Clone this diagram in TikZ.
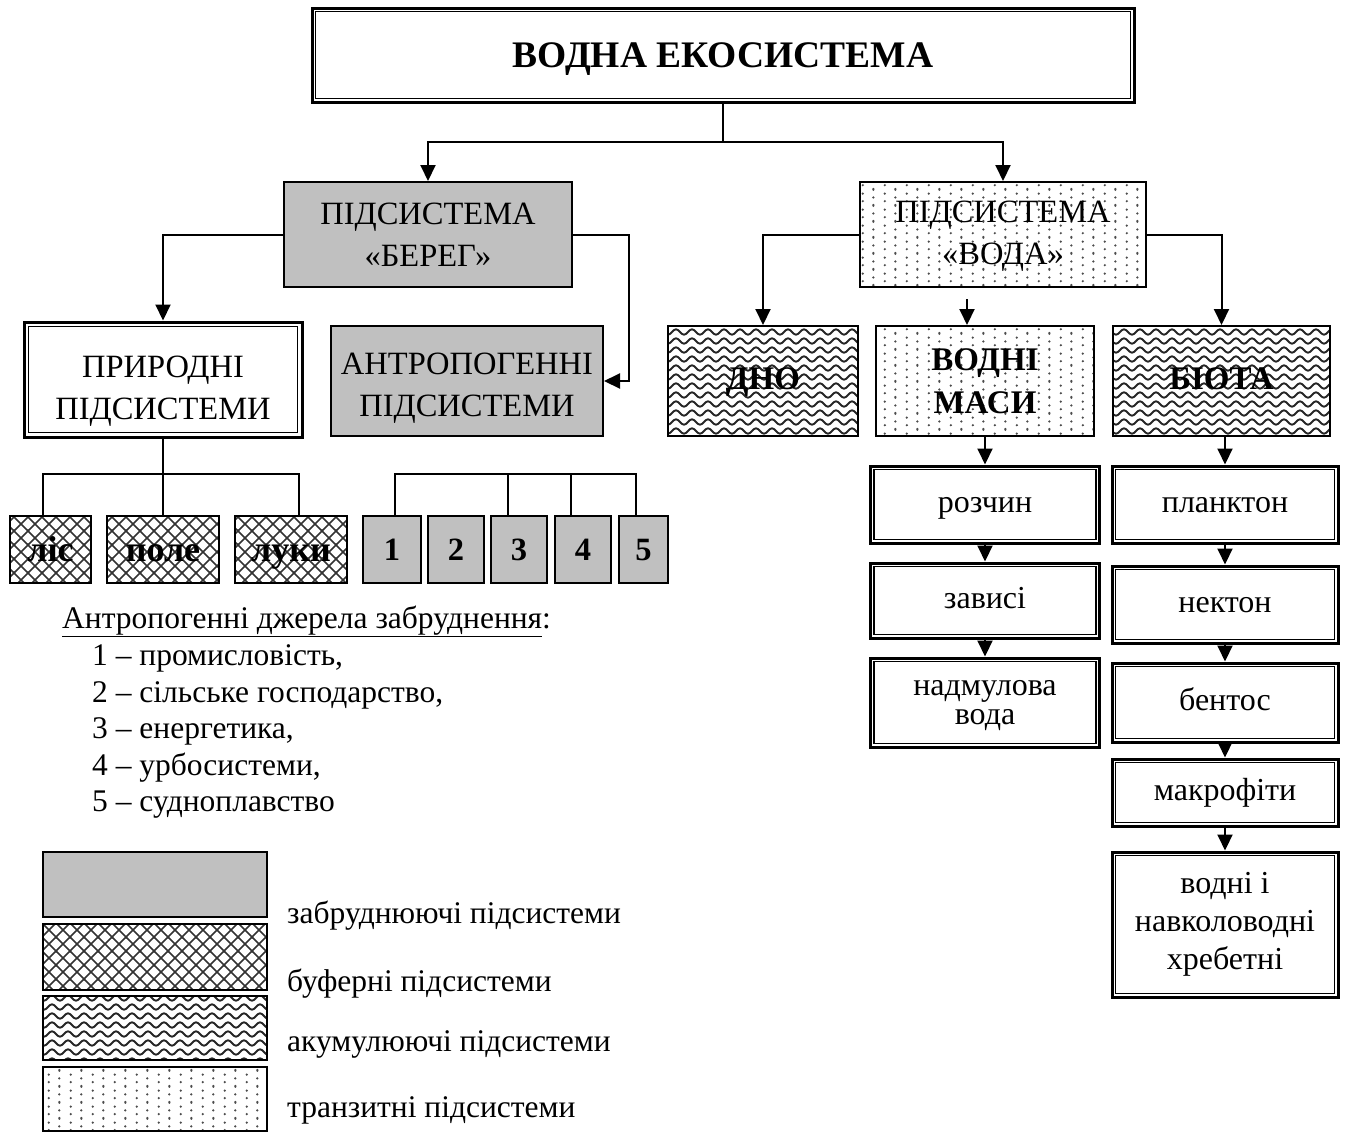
\documentclass[tikz,border=0pt]{standalone}
\usepackage{fontspec}
\setmainfont{Liberation Serif}
\usetikzlibrary{patterns,arrows.meta}

\pgfdeclarepatternformonly{xhatch}{\pgfqpoint{-1pt}{-1pt}}{\pgfqpoint{15pt}{15pt}}{\pgfqpoint{14pt}{14pt}}{%
  \pgfsetlinewidth{1.6pt}%
  \pgfpathmoveto{\pgfqpoint{-1pt}{-1pt}}\pgfpathlineto{\pgfqpoint{15pt}{15pt}}%
  \pgfpathmoveto{\pgfqpoint{-1pt}{15pt}}\pgfpathlineto{\pgfqpoint{15pt}{-1pt}}%
  \pgfusepath{stroke}}
\pgfdeclarepatternformonly{waves}{\pgfqpoint{-1pt}{-4pt}}{\pgfqpoint{17pt}{5pt}}{\pgfqpoint{16pt}{9pt}}{%
  \pgfsetlinewidth{1.9pt}\pgfsetroundcap%
  \pgfpathmoveto{\pgfqpoint{0pt}{0pt}}%
  \pgfpathsine{\pgfqpoint{4pt}{2.7pt}}%
  \pgfpathcosine{\pgfqpoint{4pt}{-2.7pt}}%
  \pgfpathsine{\pgfqpoint{4pt}{-2.7pt}}%
  \pgfpathcosine{\pgfqpoint{4pt}{2.7pt}}%
  \pgfusepath{stroke}}
\pgfdeclarepatternformonly{sdots}{\pgfqpoint{0pt}{0pt}}{\pgfqpoint{22pt}{16pt}}{\pgfqpoint{22pt}{16pt}}{%
  \pgfpathcircle{\pgfqpoint{5pt}{4pt}}{1.3pt}%
  \pgfpathcircle{\pgfqpoint{5pt}{12pt}}{1.3pt}%
  \pgfpathcircle{\pgfqpoint{16pt}{0pt}}{1.3pt}%
  \pgfpathcircle{\pgfqpoint{16pt}{8pt}}{1.3pt}%
  \pgfpathcircle{\pgfqpoint{16pt}{16pt}}{1.3pt}%
  \pgfusepath{fill}}

\definecolor{gfill}{RGB}{192,192,192}

\newcommand\dblinner[2][5]{\draw[line width=1.7pt] ([xshift=#1pt,yshift=-#1pt]#2.north west) rectangle ([xshift=-#1pt,yshift=#1pt]#2.south east);}

\tikzset{
  box/.style={draw, line width=2pt, inner sep=0pt, align=center},
  graybox/.style={box, fill=gfill},
  dblbox/.style={draw, line width=3pt, inner sep=0pt, align=center, fill=white},
  hatchbox/.style={box, pattern=xhatch, pattern color=black!80},
  wavebox/.style={box, pattern=waves, pattern color=black!85},
  dotbox/.style={box, pattern=sdots, pattern color=black!70},
  conn/.style={line width=2pt},
  arr/.style={line width=2pt, -{Triangle[width=15pt,length=16pt]}},
  fbig/.style={font=\fontsize{32.5}{42}\selectfont},
  fbigb/.style={font=\fontsize{33}{43}\selectfont\bfseries},
  fsmall/.style={font=\fontsize{32}{29}\selectfont, text height=22pt, text depth=6.5pt},
  fleg/.style={font=\fontsize{31.5}{36.5}\selectfont},
}

\begin{document}
\begin{tikzpicture}[x=1pt,y=-1pt]
\useasboundingbox (0,0) rectangle (1349,1133);

% title
\node[dblbox, minimum width=822pt, minimum height=94pt, font=\fontsize{37.5}{40}\selectfont\bfseries, text height=25pt, text depth=0pt] (title) at (723,55) {ВОДНА ЕКОСИСТЕМА};
\dblinner{title}

% level 1
\node[graybox, fbig, minimum width=288pt, minimum height=105pt] (bereg) at (428,234.5) {ПІДСИСТЕМА\\«БЕРЕГ»};
\node[dotbox, fbig, minimum width=286pt, minimum height=105pt] (voda) at (1003,234.5) {\rule{0pt}{25pt}ПІДСИСТЕМА\\«ВОДА»};

% level 2
\node[dblbox, fbig, minimum width=278pt, minimum height=115pt] (pryr) at (163,379.5) {\rule{0pt}{45pt}ПРИРОДНІ\\ПІДСИСТЕМИ};
\dblinner[6]{pryr}
\node[graybox, fbig, minimum width=272pt, minimum height=110pt] (antr) at (467,381) {\rule{0pt}{35pt}АНТРОПОГЕННІ\\ПІДСИСТЕМИ};
\node[wavebox, fbigb, text height=22pt, text depth=6pt, minimum width=190pt, minimum height=110pt] (dno) at (763,381) {ДНО};
\node[dotbox, fbigb, minimum width=218pt, minimum height=110pt] (vmasy) at (985,381) {ВОДНІ\\МАСИ};
\node[wavebox, fbigb, text height=22pt, text depth=6pt, minimum width=217pt, minimum height=110pt] (biota) at (1221.5,381) {БІОТА};

% level 3 left
\tikzset{small/.style={text height=24pt, text depth=0pt, minimum height=67pt, font=\fontsize{36}{30}\selectfont\bfseries}}
\node[hatchbox, small, minimum width=81pt] (lis) at (50.5,549.5) {ліс};
\node[hatchbox, small, minimum width=112pt] (pole) at (163,549.5) {поле};
\node[hatchbox, small, minimum width=112pt] (luky) at (291,549.5) {луки};
\tikzset{num/.style={graybox, text height=22pt, text depth=0pt, minimum height=67pt, font=\fontsize{32.5}{30}\selectfont\bfseries}}
\node[num, minimum width=58pt] (n1) at (392,549.5) {1};
\node[num, minimum width=56pt] (n2) at (456,549.5) {2};
\node[num, minimum width=56pt] (n3) at (519,549.5) {3};
\node[num, minimum width=56pt] (n4) at (583,549.5) {4};
\node[num, minimum width=49pt] (n5) at (643.5,549.5) {5};

% right columns
\tikzset{rc/.style={dblbox, fsmall, minimum width=229pt}}
\node[rc, minimum height=77pt] (rozch) at (985,504.5) {розчин};
\dblinner{rozch}
\node[rc, minimum height=75pt] (zav) at (985,600.5) {зависі};
\dblinner{zav}
\node[dblbox, font=\fontsize{32}{29}\selectfont, minimum width=229pt, minimum height=89pt] (nadm) at (985,702.5) {\rule{0pt}{22pt}надмулова\\вода};
\dblinner{nadm}

\node[rc, minimum width=226pt, minimum height=77pt] (plank) at (1225,504.5) {планктон};
\dblinner{plank}
\node[rc, minimum width=226pt, minimum height=77pt] (nekt) at (1225,604.5) {нектон};
\dblinner{nekt}
\node[rc, minimum width=226pt, minimum height=79pt] (bent) at (1225,702.5) {бентос};
\dblinner{bent}
\node[rc, minimum width=226pt, minimum height=67pt] (makro) at (1225,792.5) {макрофіти};
\dblinner{makro}
\node[dblbox, minimum width=226pt, minimum height=145pt, font=\fontsize{32}{38}\selectfont] (khreb) at (1225,924.5) {водні і\\навколоводні\\хребетні};
\dblinner{khreb}

% connectors
\draw[arr] (title.south) -- ++(0,38) -| (bereg.north);
\draw[arr] (title.south) -- ++(0,38) -| (voda.north);
\draw[arr] (bereg.west) -| (pryr.north);
\draw[arr] (bereg.east) -- ++(56,0) |- (antr.east);
\draw[arr] (voda.west) -| (dno.north);
\draw[arr] (voda.east) -| (biota.north);
\draw[arr] ([xshift=-18pt,yshift=26pt]vmasy.north) -- ([xshift=-18pt]vmasy.north);

\draw[conn] (pryr.south) -- (pole.north);
\draw[conn] ([xshift=-7.5pt]lis.north) |- ([xshift=8pt]luky.north |- 0,474) -- ([xshift=8pt]luky.north);
\draw[conn] ([xshift=3pt]n1.north) |- ([xshift=-7.5pt]n5.north |- 0,474) -- ([xshift=-7.5pt]n5.north);
\draw[conn] ([xshift=-11pt]n3.north |- 0,474) -- ([xshift=-11pt]n3.north);
\draw[conn] ([xshift=-12pt]n4.north |- 0,474) -- ([xshift=-12pt]n4.north);

\draw[arr] (vmasy.south) -- (rozch.north);
\draw[arr] (rozch.south) -- (zav.north);
\draw[arr] (zav.south) -- (nadm.north);
\draw[arr] (biota.south -| plank.north) -- (plank.north);
\draw[arr] (plank.south) -- (nekt.north);
\draw[arr] (nekt.south) -- (bent.north);
\draw[arr] (bent.south) -- (makro.north);
\draw[arr] (makro.south) -- (khreb.north);

% sources text
\tikzset{srcline/.style={anchor=base west, fleg, inner sep=0pt}}
\node[srcline] (src) at (62,628) {\underline{Антропогенні джерела забруднення}:};
\node[srcline] (s1) at (92,665.5) {1 – промисловість,};
\node[srcline] (s2) at (92,702) {2 – сільське господарство,};
\node[srcline] (s3) at (92,738.5) {3 – енергетика,};
\node[srcline] (s4) at (92,775) {4 – урбосистеми,};
\node[srcline] (s5) at (92,811.5) {5 – судноплавство};

% legend
\node[graybox, minimum width=224pt, minimum height=65pt] (lg1) at (155,884.5) {};
\node[hatchbox, minimum width=224pt, minimum height=66pt] (lg2) at (155,957) {};
\node[wavebox, minimum width=224pt, minimum height=64pt] (lg3) at (155,1028) {};
\node[dotbox, minimum width=224pt, minimum height=64pt] (lg4) at (155,1099) {};
\node[srcline] (t1) at (287,923) {забруднюючі підсистеми};
\node[srcline] (t2) at (287,991) {буферні підсистеми};
\node[srcline] (t3) at (287,1051) {акумулюючі підсистеми};
\node[srcline] (t4) at (287,1117) {транзитні підсистеми};
\end{tikzpicture}
\end{document}
